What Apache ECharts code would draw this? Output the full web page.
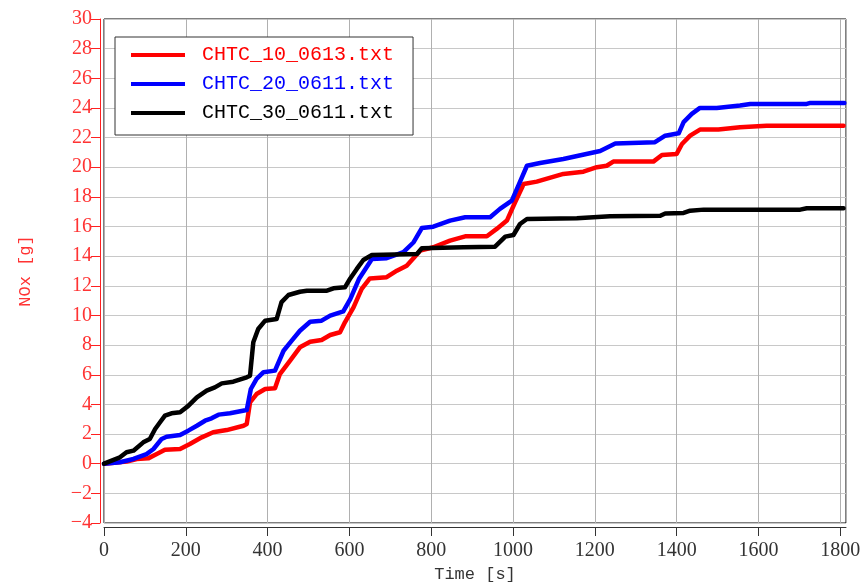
<!DOCTYPE html>
<html>
<head>
<meta charset="utf-8">
<script src="https://cdn.jsdelivr.net/npm/echarts@6/dist/echarts.min.js"></script>
<style>
html,body{margin:0;padding:0;background:#fff;}
#chart{width:863px;height:582px;}
</style>
</head>
<body>
<div id="chart"></div>
<script>
// ---- data ----
const seriesNames = ['CHTC_10_0613.txt', 'CHTC_20_0611.txt', 'CHTC_30_0611.txt'];

const redTime = [0, 55, 80, 108, 129, 149, 186, 210, 239, 267, 300, 341, 349, 357, 373, 394, 418, 430, 455, 479, 504, 532, 553, 577, 589, 610, 630, 650, 691, 716, 740, 773, 805, 846, 883, 936, 960, 985, 1005, 1026, 1058, 1123, 1172, 1205, 1229, 1245, 1343, 1364, 1400, 1413, 1433, 1457, 1502, 1555, 1620, 1808];
const redNOx = [0, 0.14, 0.32, 0.36, 0.65, 0.94, 0.99, 1.33, 1.78, 2.12, 2.27, 2.56, 2.68, 4.14, 4.7, 5.04, 5.09, 6.05, 6.95, 7.85, 8.23, 8.35, 8.68, 8.87, 9.54, 10.55, 11.79, 12.5, 12.58, 13.02, 13.36, 14.37, 14.6, 15.05, 15.34, 15.34, 15.84, 16.4, 17.64, 18.87, 19.03, 19.55, 19.7, 20.0, 20.1, 20.38, 20.38, 20.83, 20.9, 21.57, 22.13, 22.54, 22.54, 22.7, 22.8, 22.8];

const blueTime = [0, 39, 72, 104, 121, 141, 153, 186, 206, 227, 247, 263, 280, 308, 349, 359, 373, 390, 418, 439, 459, 479, 504, 532, 553, 585, 602, 624, 655, 691, 732, 757, 777, 805, 846, 883, 944, 968, 997, 1013, 1034, 1066, 1123, 1213, 1250, 1347, 1372, 1405, 1417, 1437, 1457, 1498, 1555, 1580, 1718, 1727, 1810];
const blueNOx = [0, 0.1, 0.32, 0.65, 0.99, 1.67, 1.82, 1.94, 2.23, 2.56, 2.9, 3.06, 3.31, 3.4, 3.62, 5.04, 5.72, 6.17, 6.28, 7.62, 8.3, 8.97, 9.58, 9.65, 9.99, 10.28, 11.1, 12.5, 13.81, 13.86, 14.27, 14.94, 15.9, 15.99, 16.4, 16.63, 16.63, 17.19, 17.75, 18.76, 20.1, 20.29, 20.56, 21.1, 21.6, 21.69, 22.13, 22.29, 23.04, 23.6, 24.0, 24.0, 24.16, 24.27, 24.27, 24.34, 24.34];

const blackTime = [0, 39, 55, 72, 96, 112, 125, 137, 149, 165, 186, 206, 227, 251, 271, 288, 316, 349, 357, 365, 377, 394, 422, 434, 451, 479, 496, 545, 561, 589, 602, 618, 634, 655, 765, 777, 879, 956, 981, 1001, 1017, 1034, 1156, 1237, 1360, 1372, 1417, 1433, 1466, 1702, 1718, 1808];
const blackNOx = [0, 0.43, 0.77, 0.88, 1.44, 1.67, 2.34, 2.8, 3.24, 3.4, 3.47, 3.9, 4.48, 4.93, 5.15, 5.42, 5.53, 5.83, 5.94, 8.19, 9.09, 9.65, 9.76, 10.9, 11.38, 11.6, 11.67, 11.67, 11.83, 11.9, 12.5, 13.14, 13.74, 14.08, 14.15, 14.53, 14.6, 14.64, 15.32, 15.43, 16.17, 16.51, 16.56, 16.69, 16.73, 16.88, 16.92, 17.07, 17.14, 17.14, 17.23, 17.23];

const xTicks = { min: 0, max: 1814, interval: 200 };
const yTicks = { min: -4, max: 30, interval: 2 };

// ---- chart ----
const colors = ['#ff0000', '#0000ff', '#000000'];
const pairs = (t, v) => t.map((x, i) => [x, v[i]]);
const allData = [pairs(redTime, redNOx), pairs(blueTime, blueNOx), pairs(blackTime, blackNOx)];

const chart = echarts.init(document.getElementById('chart'), null, { renderer: 'canvas' });
const monoFont = '"Liberation Mono", "DejaVu Sans Mono", monospace';
const serifFont = '"Liberation Serif", "DejaVu Serif", serif';

chart.setOption({
  animation: false,
  backgroundColor: '#ffffff',
  grid: {
    left: 104, top: 19, right: 17, bottom: 59,
    show: true, borderColor: '#000', borderWidth: 1,
    outerBoundsMode: 'none', containLabel: false
  },
  legend: {
    orient: 'vertical',
    left: 115, top: 37,
    padding: [8, 19, 12, 16],
    itemGap: 9,
    itemWidth: 54, itemHeight: 4,
    icon: 'rect',
    backgroundColor: '#fff',
    borderColor: '#333', borderWidth: 1,
    selectedMode: false,
    textStyle: { fontFamily: monoFont, fontSize: 20, lineHeight: 20, padding: [0, 0, 0, 12] },
    data: seriesNames.map((n, i) => ({ name: n, textStyle: { color: colors[i] } }))
  },
  xAxis: {
    type: 'value',
    min: xTicks.min, max: xTicks.max, interval: xTicks.interval,
    offset: 4,
    name: 'Time [s]', nameLocation: 'middle', nameGap: 36,
    nameTextStyle: { fontFamily: monoFont, fontSize: 17, color: '#333' },
    axisLine: { show: true, onZero: false, lineStyle: { color: '#333', width: 1 } },
    axisTick: { show: true, inside: false, length: 9, lineStyle: { color: '#333' } },
    axisLabel: { fontFamily: serifFont, fontSize: 20, color: '#333', margin: 14,
      showMaxLabel: false, formatter: v => String(v) },
    splitLine: { show: true, lineStyle: { color: '#b0b0b0', width: 1 } }
  },
  yAxis: {
    type: 'value',
    min: yTicks.min, max: yTicks.max, interval: yTicks.interval,
    offset: 4,
    name: 'NOx [g]', nameLocation: 'middle', nameGap: 66,
    nameTextStyle: { fontFamily: monoFont, fontSize: 17, color: '#ff3333' },
    axisLine: { show: true, onZero: false, lineStyle: { color: '#ff2020', width: 1 } },
    axisTick: { show: true, inside: false, length: 9, lineStyle: { color: '#ff2020' } },
    axisLabel: { fontFamily: serifFont, fontSize: 20, color: '#ff3333', margin: 8,
      formatter: v => (v < 0 ? '\u2212' + Math.abs(v) : String(v)) },
    splitLine: { show: true, lineStyle: { color: '#c8c8c8', width: 1 } }
  },
  series: seriesNames.map((n, i) => ({
    name: n,
    type: 'line',
    data: allData[i],
    showSymbol: false,
    symbol: 'none',
    color: colors[i],
    lineStyle: { color: colors[i], width: 4.5, join: 'round', cap: 'round' },
    emphasis: { disabled: true },
    z: 2 + i
  }))
});
</script>
</body>
</html>
